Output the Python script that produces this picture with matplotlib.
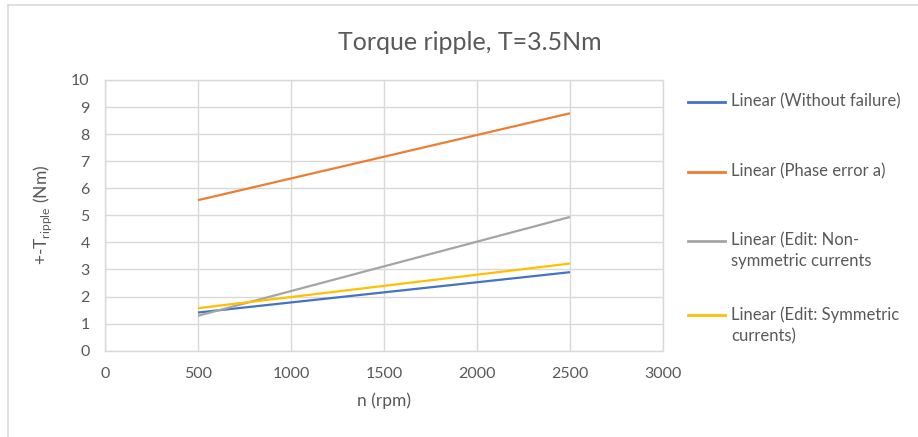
import numpy as np
import matplotlib
matplotlib.use('Agg')
import matplotlib.pyplot as plt
from matplotlib.lines import Line2D

# trendline end points read at n = 500 and n = 2500 rpm
speeds = [500, 2500]
withoutFailure = [1.41, 2.90]
phaseErrorA = [5.56, 8.77]
nonSymmetric = [1.29, 4.94]
symmetric = [1.57, 3.22]

seriesLabels = ['Linear (Without failure)',
                'Linear (Phase error a)',
                'Linear (Edit: Non-\nsymmetric currents',
                'Linear (Edit: Symmetric\ncurrents)']
seriesColors = ['#4472C4', '#ED7D31', '#A5A5A5', '#FFC000']

xTicks = [0, 500, 1000, 1500, 2000, 2500, 3000]
yTicks = list(range(0, 11))

textColor = '#595959'
gridColor = '#d9d9d9'

plt.rcParams['font.family'] = ['Lato', 'DejaVu Sans']
plt.rcParams['mathtext.fontset'] = 'custom'
plt.rcParams['mathtext.rm'] = 'Lato'

fig = plt.figure(figsize=(9.18, 4.37), dpi=100)
ax = fig.add_axes([0.1144, 0.1975, 0.6078, 0.6195])

allSeries = [withoutFailure, phaseErrorA, nonSymmetric, symmetric]
for values, color in zip(allSeries, seriesColors):
    ax.plot(speeds, values, color=color, linewidth=1.6, solid_capstyle='butt')

ax.set_xlim(0, 3000)
ax.set_ylim(0, 10)
ax.set_xticks(xTicks)
ax.set_yticks(yTicks)
ax.grid(True, color=gridColor, linewidth=1.0)
ax.set_axisbelow(True)
for spine in ax.spines.values():
    spine.set_color(gridColor)
    spine.set_linewidth(1.0)
ax.tick_params(length=0, labelsize=11.5, labelcolor=textColor)
ax.tick_params(axis='y', pad=11)
ax.tick_params(axis='x', pad=12)

ax.set_xlabel('n (rpm)', fontsize=12.5, color=textColor, labelpad=8)
ax.set_ylabel(r'+-T$_{\mathrm{ripple}}$ (Nm)', fontsize=12.5, color=textColor, labelpad=12)
fig.text(0.512, 0.903, 'Torque ripple, T=3.5Nm', fontsize=18, color=textColor,
         ha='center', va='center')

# legend drawn by hand so entries sit where the spreadsheet puts them
legendY = [102, 172, 241, 315]
H = 437.0
W = 918.0
for label, color, yp in zip(seriesLabels, seriesColors, legendY):
    fig.add_artist(Line2D([688 / W, 725 / W], [1 - yp / H, 1 - yp / H],
                          color=color, linewidth=2.0, transform=fig.transFigure))
    fig.text(731 / W, 1 - (yp - 9) / H, label, fontsize=12, color=textColor,
             ha='left', va='top', linespacing=1.4)

# chart area frame
fig.add_artist(Line2D([8 / W, 8 / W], [0, 1 - 5 / H], color='#d9d9d9',
                      linewidth=1.2, transform=fig.transFigure))
fig.add_artist(Line2D([8 / W, 1], [1 - 5 / H, 1 - 5 / H], color='#d9d9d9',
                      linewidth=1.2, transform=fig.transFigure))

fig.savefig('out.png', dpi=100)
